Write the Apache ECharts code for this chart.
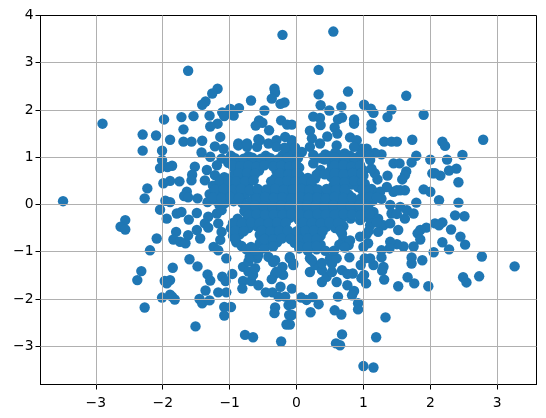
<!DOCTYPE html>
<html><head><meta charset="utf-8">
<style>html,body{margin:0;padding:0;background:#fff}#c{width:546px;height:418px}</style>
<script src="https://cdn.jsdelivr.net/npm/echarts@6/dist/echarts.min.js"></script>
</head><body><div id="c"></div>
<script>
const xTicks=[-3,-2,-1,0,1,2,3];
const yTicks=[-3,-2,-1,0,1,2,3,4];
const upperLeft=[[-0.21,3.59],[-1.62,2.83],[-2.90,1.71],[-1.18,2.45],[-1.26,2.35],[-1.36,2.18],[-1.41,2.11],[-0.33,2.45],[-0.32,2.37],[-0.37,2.24],[-0.68,2.20],[-0.24,2.13],[-0.18,2.16],[-0.86,2.04],[-0.99,2.02],[-1.11,1.95],[-1.08,1.87],[-0.94,1.88],[-0.48,1.99],[-1.30,1.88],[-1.54,1.87],[-1.72,1.85],[-1.98,1.80],[-1.69,1.59],[-1.18,1.71],[-1.29,1.65],[-0.56,1.78],[-0.51,1.73],[-0.61,1.67],[-0.23,1.78],[-0.14,1.69],[-0.41,1.57],[-2.30,1.48],[-2.10,1.46],[-1.89,1.37],[-1.69,1.33],[-1.57,1.33],[-1.41,1.35],[-2.30,1.14],[-2.01,1.14],[-2.01,0.94],[-1.86,0.82],[-1.93,0.79],[-2.04,0.77],[-1.52,0.80],[-1.56,0.63],[-1.57,0.51],[-1.75,0.49],[-1.89,0.50],[-1.99,0.45],[-2.23,0.34],[-2.27,0.13],[-3.49,0.07],[-1.96,0.08],[-1.89,0.05],[-1.64,0.27],[-1.68,0.18],[-1.48,0.13],[-1.62,0.15],[-1.14,1.43],[-1.22,1.23],[-1.09,1.18],[-0.87,1.25],[-0.74,1.22],[-0.55,1.36],[-0.59,1.22],[-1.42,1.10],[-1.29,1.01],[-1.12,0.97],[-1.34,0.73],[-1.37,0.51],[-1.19,0.83]];
const upperRight=[[0.55,3.66],[0.33,2.85],[0.33,2.33],[0.77,2.39],[1.64,2.30],[0.36,2.10],[0.49,1.99],[0.67,2.07],[1.01,2.11],[1.11,2.03],[1.15,1.94],[1.42,2.01],[1.36,1.85],[1.90,1.90],[0.25,1.86],[0.35,1.83],[0.36,1.68],[0.68,1.84],[0.62,1.80],[0.86,1.80],[0.86,1.71],[1.12,1.70],[1.12,1.61],[-0.07,1.69],[0.20,1.56],[0.57,1.63],[0.61,1.50],[0.46,1.44],[0.80,1.42],[0.90,1.36],[1.31,1.33],[1.42,1.33],[1.50,1.33],[1.73,1.37],[2.18,1.33],[2.22,1.24],[2.79,1.37],[2.48,1.05],[2.25,0.95],[2.00,0.95],[1.79,1.03],[1.72,0.89],[1.45,0.87],[1.54,0.87],[2.39,0.76],[2.28,0.72],[2.03,0.66],[2.15,0.61],[2.07,0.66],[2.42,0.47],[1.36,0.61],[1.64,0.70],[1.62,0.62],[1.58,0.53],[1.90,0.32],[2.00,0.27],[2.13,0.09],[2.42,0.04],[1.79,0.04],[1.62,0.30],[1.55,0.30],[1.45,0.27],[1.21,0.53],[1.17,0.66],[1.12,0.76],[1.27,1.06],[1.17,1.09],[1.05,1.18],[0.97,1.18],[0.86,1.22],[0.72,1.08],[0.60,1.25],[0.58,1.10],[0.43,1.06],[0.35,1.29],[0.23,1.40],[0.20,1.22],[0.08,1.11],[0.25,0.87],[0.33,0.66],[-0.07,1.36],[-0.10,1.14],[0.92,0.94],[0.82,0.87],[1.10,0.94],[1.02,0.44],[0.90,0.66],[0.65,0.83],[0.53,0.83],[1.15,0.27],[1.25,0.27],[1.35,0.37],[1.50,0.30]];
const lowerLeft=[[-2.56,-0.33],[-2.63,-0.47],[-2.56,-0.53],[-2.09,-0.72],[-2.19,-0.97],[-2.32,-1.41],[-2.38,-1.60],[-2.27,-2.18],[-1.85,-1.34],[-1.60,-1.16],[-1.48,-1.31],[-1.97,-1.62],[-1.89,-1.60],[-1.94,-1.67],[-2.01,-1.97],[-1.89,-1.91],[-1.82,-2.01],[-1.86,-1.95],[-1.33,-1.48],[-1.29,-1.61],[-1.36,-1.82],[-1.45,-2.00],[-1.41,-2.09],[-1.30,-2.03],[-1.17,-1.86],[-1.05,-1.86],[-1.11,-1.53],[-1.06,-1.62],[-0.96,-1.47],[-1.08,-2.17],[-0.98,-2.17],[-1.08,-2.35],[-1.51,-2.58],[-0.77,-2.76],[-0.65,-2.81],[-0.23,-2.90],[-0.15,-2.54],[-0.32,-2.18],[-0.33,-2.30],[-1.05,-1.14],[-0.80,-1.62],[-0.68,-1.62],[-0.81,-1.78],[-0.57,-1.71],[-0.46,-1.86],[-0.36,-1.86],[-0.24,-1.74],[-0.27,-1.95],[-0.17,-1.95],[-0.12,-2.13],[-0.11,-2.34],[-0.37,-1.58],[-0.32,-1.47],[-0.20,-1.49],[-0.21,-1.32],[-0.32,-1.18],[-0.80,-1.32],[-0.72,-1.42],[-0.65,-1.49],[-0.62,-1.35],[-0.72,-1.21],[-0.59,-1.14],[-2.04,-0.11],[-1.94,-0.30],[-1.79,-0.19],[-1.72,-0.16],[-1.61,-0.32],[-1.49,-0.18],[-1.32,-0.26],[-1.37,-0.40],[-1.32,-0.49],[-1.80,-0.58],[-1.84,-0.74],[-1.74,-0.79],[-1.66,-0.82],[-1.62,-0.65],[-1.49,-0.54],[-1.44,-0.72],[-1.24,-0.90],[-1.17,-0.97],[-1.14,-0.75],[-1.17,-0.40],[-1.12,-0.58],[-1.19,-0.19],[-1.12,-0.12],[-0.30,-1.42],[-0.10,-1.14],[-0.05,-1.28],[-0.70,-1.11],[-0.57,-1.07],[-0.42,-1.11],[-0.35,-1.22]];
const lowerRight=[[3.26,-1.31],[2.77,-1.10],[2.73,-1.52],[2.49,-1.54],[2.54,-1.65],[1.97,-1.73],[1.76,-1.67],[1.66,-1.54],[1.52,-1.73],[1.31,-1.59],[1.88,-1.18],[1.72,-1.12],[1.72,-1.25],[2.05,-1.01],[2.28,-0.95],[2.18,-0.80],[2.52,-0.85],[2.45,-0.68],[2.31,-0.53],[2.37,-0.23],[2.51,-0.25],[2.07,-0.40],[2.18,-0.38],[2.13,-0.44],[1.94,-0.49],[1.85,-0.54],[1.81,-0.61],[1.85,-0.74],[1.75,-0.89],[1.60,-0.89],[1.50,-0.84],[1.40,-0.79],[1.39,-0.93],[1.27,-0.97],[1.27,-1.12],[1.30,-1.32],[1.28,-1.40],[1.15,-1.28],[1.10,-1.14],[1.02,-1.14],[0.96,-1.28],[1.01,-1.49],[1.04,-1.67],[0.97,-1.56],[0.84,-1.46],[0.68,-1.39],[0.76,-1.47],[0.79,-1.12],[0.76,-1.71],[0.86,-1.83],[0.83,-1.92],[0.62,-1.95],[0.92,-2.09],[0.92,-2.22],[0.57,-2.24],[0.67,-2.33],[1.33,-2.39],[0.68,-2.75],[0.59,-2.94],[0.65,-2.98],[1.19,-2.81],[1.00,-3.42],[1.15,-3.45],[0.21,-2.28],[0.33,-2.11],[0.24,-1.96],[0.15,-2.02],[0.07,-1.97],[-0.07,-1.78],[-0.07,-2.11],[-0.07,-2.34],[-0.10,-2.54],[0.38,-1.64],[0.45,-1.53],[0.60,-1.64],[0.53,-1.43],[0.20,-1.43],[0.28,-1.28],[0.20,-1.14],[0.38,-1.39],[0.50,-1.14],[-0.05,-1.25],[-0.10,-1.11],[1.40,-0.01],[1.55,-0.05],[1.42,-0.19],[1.62,-0.30],[1.75,-0.19],[1.65,-0.12],[1.15,-0.16],[1.30,-0.44],[1.40,-0.40],[1.52,-0.54],[1.22,-0.58],[1.10,-0.44],[1.07,-0.82],[0.95,-0.68],[0.70,-0.75],[0.23,-1.18],[0.38,-1.24],[0.53,-1.25],[0.60,-1.14]];
const centerUpper=[[-0.87,1.29],[-0.74,1.29],[-0.57,1.38],[-0.42,1.29],[-0.30,1.36],[-0.17,1.43],[-0.07,1.32],[-0.98,1.03],[-0.72,1.02],[-0.46,1.03],[-0.21,1.04],[-0.05,1.07],[0.25,1.05],[0.50,1.02],[0.65,1.04],[0.80,1.03],[0.95,1.05],[1.08,1.03],[-0.30,1.22],[-0.18,1.20],[-0.02,1.20],[-1.02,0.88],[-0.90,0.92],[-0.78,0.87],[-0.66,0.93],[-0.54,0.88],[-0.41,0.92],[-0.29,0.87],[-0.17,0.93],[-0.04,0.88],[0.42,0.95],[0.58,0.93],[0.72,0.95],[-0.93,0.76],[-0.80,0.72],[-0.68,0.77],[-0.56,0.72],[-0.30,0.71],[-0.18,0.77],[-0.06,0.72],[0.04,0.78],[0.36,0.73],[0.50,0.70],[0.62,0.72],[0.76,0.74],[0.88,0.78],[1.00,0.72],[-1.22,0.62],[-1.08,0.58],[-0.95,0.60],[-0.82,0.56],[-0.70,0.61],[-0.32,0.55],[-0.20,0.60],[-0.08,0.56],[0.05,0.60],[0.17,0.56],[0.28,0.55],[0.52,0.58],[0.66,0.55],[0.78,0.60],[0.95,0.56],[1.00,0.61],[-1.25,0.40],[-1.12,0.43],[-0.98,0.39],[-0.85,0.42],[-0.72,0.38],[-0.36,0.42],[-0.24,0.38],[-0.11,0.43],[0.02,0.38],[0.14,0.42],[0.24,0.37],[0.55,0.40],[0.68,0.38],[0.82,0.42],[0.92,0.37],[1.12,0.33],[-1.30,0.22],[-1.17,0.26],[-1.04,0.21],[-0.91,0.25],[-0.78,0.20],[-0.65,0.24],[-0.52,0.21],[-0.39,0.25],[-0.26,0.20],[-0.13,0.24],[0.00,0.20],[0.13,0.25],[0.26,0.21],[0.39,0.24],[0.52,0.20],[0.65,0.24],[0.78,0.21],[1.04,0.21]];
const centerLower=[[-1.33,0.05],[-1.20,0.08],[-1.07,0.03],[-0.94,0.07],[-0.81,0.03],[-0.68,0.07],[-0.55,0.04],[-0.42,0.08],[-0.29,0.03],[-0.16,0.07],[-0.03,0.03],[0.10,0.08],[0.23,0.03],[0.36,0.07],[0.49,0.03],[0.62,0.08],[0.75,0.04],[0.88,0.07],[1.01,0.03],[1.14,0.08],[1.27,0.12],[-0.78,-0.14],[-0.66,-0.10],[-0.53,-0.15],[-0.40,-0.10],[-0.27,-0.14],[-0.14,-0.09],[-0.01,-0.14],[0.12,-0.10],[0.25,-0.14],[0.38,-0.09],[0.51,-0.14],[0.64,-0.10],[0.77,-0.15],[0.90,-0.10],[1.03,-0.14],[-0.88,-0.30],[-0.75,-0.33],[-0.62,-0.28],[-0.49,-0.32],[-0.36,-0.27],[-0.23,-0.32],[-0.10,-0.28],[0.03,-0.32],[0.16,-0.27],[0.29,-0.32],[0.42,-0.28],[0.55,-0.33],[0.68,-0.29],[0.81,-0.30],[0.95,-0.33],[1.08,-0.28],[1.22,-0.30],[-0.98,-0.50],[-0.85,-0.46],[-0.72,-0.50],[-0.59,-0.46],[-0.46,-0.51],[-0.33,-0.46],[-0.20,-0.50],[0.06,-0.50],[0.19,-0.46],[0.32,-0.51],[0.45,-0.47],[0.58,-0.50],[0.70,-0.46],[-0.95,-0.66],[-0.85,-0.63],[-0.55,-0.64],[-0.42,-0.67],[-0.29,-0.63],[-0.16,-0.67],[-0.03,-0.63],[0.10,-0.67],[0.23,-0.63],[0.36,-0.66],[0.68,-0.62],[1.05,-0.62],[-0.90,-0.80],[-0.82,-0.88],[-0.55,-0.82],[-0.42,-0.85],[-0.29,-0.80],[-0.03,-0.81],[0.10,-0.86],[0.23,-0.81],[0.36,-0.85],[0.64,-0.85],[0.78,-0.86],[-0.75,-0.95],[-0.62,-0.98],[-0.48,-0.93],[0.04,-0.93],[0.17,-0.98],[0.30,-0.95],[0.43,-0.98],[0.56,-0.98]];
const fillUpper=[[-0.92,0.98],[-0.79,0.97],[-0.66,0.99],[-0.53,0.97],[-0.39,0.98],[-0.27,0.96],[-0.13,0.99],[0.02,0.98],[0.36,0.98],[0.57,0.99],[0.72,1.00],[0.87,0.98],[-0.96,0.83],[-0.84,0.81],[-0.72,0.82],[-0.60,0.80],[-0.48,0.83],[-0.35,0.81],[-0.23,0.82],[-0.11,0.80],[0.00,0.83],[0.57,0.82],[0.70,0.83],[0.82,0.80],[0.95,0.83],[-0.87,0.66],[-0.74,0.67],[-0.62,0.65],[-0.25,0.66],[-0.12,0.64],[0.00,0.67],[0.30,0.63],[0.42,0.64],[0.57,0.66],[0.70,0.64],[0.84,0.67],[0.97,0.66],[-1.15,0.49],[-1.02,0.50],[-0.90,0.48],[-0.77,0.49],[-0.64,0.51],[-0.38,0.49],[-0.26,0.47],[-0.14,0.50],[-0.02,0.48],[0.11,0.50],[0.22,0.47],[0.58,0.49],[0.72,0.47],[0.86,0.50],[0.98,0.47],[-1.22,0.32],[-1.09,0.33],[-0.96,0.31],[-0.83,0.33],[-0.70,0.31],[-0.58,0.33],[-0.45,0.32],[-0.32,0.33],[-0.19,0.31],[-0.06,0.32],[0.07,0.33],[0.19,0.31],[0.32,0.32],[0.45,0.33],[0.59,0.31],[0.72,0.32],[0.98,0.31],[1.08,0.30],[-1.25,0.15],[-1.12,0.14],[-0.99,0.16],[-0.86,0.14],[-0.60,0.13],[-0.47,0.16],[-0.34,0.14],[-0.21,0.15],[-0.08,0.13],[0.05,0.16],[0.18,0.14],[0.31,0.15],[0.44,0.13],[0.57,0.16],[0.70,0.14],[0.83,0.15],[0.96,0.13],[1.09,0.16],[1.20,0.15]];
const fillLower=[[-1.15,-0.02],[-0.75,-0.04],[-0.62,-0.02],[-0.49,-0.03],[-0.36,-0.04],[-0.23,-0.02],[-0.10,-0.03],[0.03,-0.04],[0.16,-0.02],[0.29,-0.03],[0.42,-0.04],[0.55,-0.02],[0.68,-0.03],[0.81,-0.04],[0.94,-0.02],[1.07,-0.03],[-0.72,-0.22],[-0.60,-0.20],[-0.47,-0.22],[-0.34,-0.21],[-0.21,-0.22],[-0.08,-0.20],[0.05,-0.21],[0.18,-0.22],[0.31,-0.20],[0.44,-0.21],[0.57,-0.22],[0.70,-0.20],[0.83,-0.21],[0.96,-0.22],[1.09,-0.20],[1.50,-0.20],[-0.95,-0.39],[-0.82,-0.40],[-0.68,-0.38],[-0.55,-0.39],[-0.42,-0.40],[-0.29,-0.38],[-0.16,-0.39],[0.10,-0.38],[0.23,-0.39],[0.36,-0.40],[0.49,-0.38],[0.62,-0.39],[1.20,-0.38],[-0.92,-0.56],[-0.79,-0.57],[-0.52,-0.55],[-0.39,-0.57],[-0.26,-0.56],[-0.13,-0.55],[0.00,-0.57],[0.13,-0.56],[0.26,-0.55],[0.39,-0.57],[0.65,-0.55],[1.08,-0.56],[-0.92,-0.73],[-0.48,-0.73],[-0.35,-0.74],[-0.22,-0.72],[-0.09,-0.73],[0.04,-0.74],[0.17,-0.72],[0.30,-0.73],[0.80,-0.76],[-0.68,-0.90],[-0.35,-0.89],[0.04,-0.89],[0.17,-0.90],[0.30,-0.88],[0.72,-0.91],[1.00,-0.90]];
const points=[...upperLeft,...upperRight,...lowerLeft,...lowerRight,...centerUpper,...centerLower,...fillUpper,...fillLower];
const fmt=v=>String(v).replace('-','\u2212');
const gridLineData=[...xTicks.map(v=>({xAxis:v})),...yTicks.filter(v=>v<4).map(v=>({yAxis:v}))];
const axisCommon={
  axisLine:{show:true,onZero:false,lineStyle:{color:'#000',width:1}},
  splitLine:{show:false},
  axisLabel:{color:'#000',fontFamily:'DejaVu Sans',fontSize:13.9,margin:12,formatter:fmt},
  axisTick:{show:true,length:5,lineStyle:{color:'#000',width:1}}
};
const chart=echarts.init(document.getElementById('c'),null,{renderer:'canvas'});
chart.setOption({
  animation:false,
  backgroundColor:'#fff',
  grid:{left:40.5,top:15.5,width:496,height:369,show:true,borderColor:'#000',borderWidth:1,backgroundColor:'transparent'},
  xAxis:{...axisCommon,type:'value',min:-3.827,max:3.587,interval:1,
    axisLabel:{...axisCommon.axisLabel,customValues:xTicks},
    axisTick:{...axisCommon.axisTick,customValues:xTicks}},
  yAxis:{...axisCommon,type:'value',min:-3.81,max:4.0,interval:1,
    axisLabel:{...axisCommon.axisLabel,margin:7,customValues:yTicks},
    axisTick:{...axisCommon.axisTick,customValues:yTicks}},
  series:[{type:'scatter',data:points,symbolSize:10.4,itemStyle:{color:'#1f77b4',opacity:1},silent:true,
    markLine:{silent:true,symbol:'none',animation:false,label:{show:false},
      lineStyle:{color:'#b0b0b0',width:1,type:'solid',opacity:1},emphasis:{disabled:true},data:gridLineData}}]
});
</script></body></html>
